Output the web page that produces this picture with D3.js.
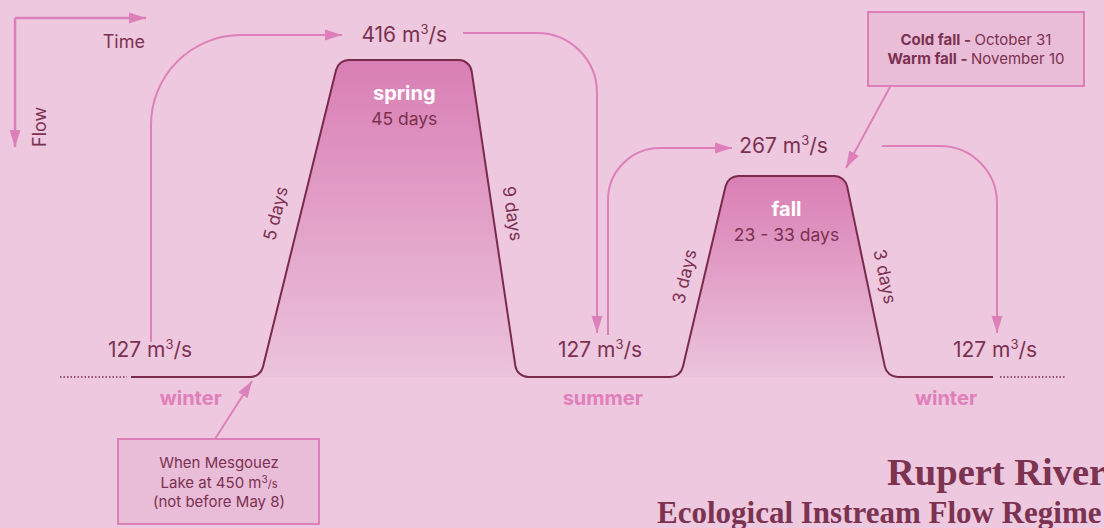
<!DOCTYPE html>
<html>
<head>
<meta charset="utf-8">
<script src="https://cdn.jsdelivr.net/npm/d3@7"></script>
<style>
  body { margin: 0; background: #edc8df; }
  svg { display: block; font-family: Inter, "Noto Sans", sans-serif; }
</style>
</head>
<body>
<svg id="regime" width="1104" height="528"></svg>
<script>
// flow regime, schematic (not to scale)

var seasons = ["winter", "summer", "winter"];
var peaks = ["spring", "fall"];
var peakDays = ["45 days", "23 - 33 days"];
var rampDays = ["5 days", "9 days", "3 days", "3 days"];
// hydrograph breakpoints : step index -> flow (m3/s)
var steps = [0, 1, 2, 3, 4, 5, 6, 7, 8, 9];
var flows = [127, 127, 416, 416, 127, 127, 267, 267, 127, 127];
var flowLevels = [127, 267, 416];
var lakeFlow = 450;

var maroon = "#7b3150",
    pink = "#dd80b9",
    lineCol = "#7a2b4b";

var svg = d3.select("#regime");

var x = d3.scaleLinear()
    .domain(steps)
    .range([131, 260.5, 338.5, 470, 517, 680.5, 728, 845, 887, 993]);

var y = d3.scaleLinear()
    .domain(flowLevels)
    .range([377, 176, 60]);

var defs = svg.append("defs");

var grad = defs.append("linearGradient")
    .attr("id", "peakFill")
    .attr("x1", 0).attr("y1", 0).attr("x2", 0).attr("y2", 1);
grad.append("stop").attr("offset", "0%").attr("stop-color", "#d97fb4");
grad.append("stop").attr("offset", "100%").attr("stop-color", "#ebc3dc");

defs.append("marker")
    .attr("id", "head")
    .attr("markerUnits", "userSpaceOnUse")
    .attr("markerWidth", 18).attr("markerHeight", 12)
    .attr("refX", 17).attr("refY", 6)
    .attr("orient", "auto")
    .append("path")
    .attr("d", "M0,0.5L17,6L0,11.5Z")
    .attr("fill", pink);

var pts = steps.map(function(d, i) { return [x(d), y(flows[i])]; });
var r = 13;

function rounded(points, close) {
    var p = d3.path();
    p.moveTo(points[0][0], points[0][1]);
    for (var i = 1; i < points.length - 1; i++) {
        p.arcTo(points[i][0], points[i][1], points[i + 1][0], points[i + 1][1], r);
    }
    p.lineTo(points[points.length - 1][0], points[points.length - 1][1]);
    if (close) p.closePath();
    return p.toString();
}

// shaded peaks
[[1, 4], [5, 8]].forEach(function(s) {
    var base = y(127);
    var poly = [[x(s[0]) - r, base]].concat(pts.slice(s[0], s[1] + 1), [[x(s[1]) + r, base]]);
    svg.append("path")
        .attr("d", rounded(poly, true))
        .attr("fill", "url(#peakFill)");
});

// hydrograph line
svg.append("path")
    .attr("d", rounded(pts, false))
    .attr("fill", "none")
    .attr("stroke", lineCol)
    .attr("stroke-width", 2);

// dotted lead in / lead out
[[60, 127], [1000, 1065]].forEach(function(d) {
    svg.append("line")
        .attr("x1", d[0]).attr("x2", d[1])
        .attr("y1", y(127)).attr("y2", y(127))
        .attr("stroke", lineCol)
        .attr("stroke-width", 1.5)
        .attr("stroke-dasharray", "1.5,2");
});

// axes legend
svg.append("path").attr("d", "M15,18H146").attr("stroke", pink).attr("stroke-width", 2.5)
    .attr("fill", "none").attr("marker-end", "url(#head)");
svg.append("path").attr("d", "M15,18V147").attr("stroke", pink).attr("stroke-width", 2.5)
    .attr("fill", "none").attr("marker-end", "url(#head)");
svg.append("text").attr("x", 145).attr("y", 48).attr("text-anchor", "end")
    .attr("fill", maroon).style("font-size", "18px").text("Time");
svg.append("text").attr("transform", "translate(46,147) rotate(-90)")
    .attr("fill", maroon).style("font-size", "18px").text("Flow");

// connecting arrows between flow levels
var arrows = [
    "M151,342V125A90,90 0 0 1 241,35H342",
    "M463,33H537A60,60 0 0 1 597,93V333",
    "M608,335V200A52,52 0 0 1 660,148H732",
    "M882,146H940A57,57 0 0 1 997,203V333"
];
svg.selectAll(".conn")
    .data(arrows)
    .enter().append("path")
    .attr("class", "conn")
    .attr("d", function(d) { return d; })
    .attr("fill", "none")
    .attr("stroke", pink)
    .attr("stroke-width", 2)
    .attr("marker-end", "url(#head)");

function flowLabel(g, v, cx, by) {
    var t = g.append("text")
        .attr("x", cx).attr("y", by)
        .attr("text-anchor", "middle")
        .attr("fill", maroon)
        .style("font-size", "21px");
    t.append("tspan").text(v + " m");
    t.append("tspan").attr("dy", -8).style("font-size", "13px").text("3");
    t.append("tspan").attr("dy", 8).text("/s");
}

flowLabel(svg, flows[2], (x(2) + x(3)) / 2, y(416) - 18);
flowLabel(svg, flows[6], (x(6) + x(7)) / 2 - 3, y(267) - 23);
[150, 600, 995].forEach(function(cx, i) {
    flowLabel(svg, [flows[0], flows[4], flows[9]][i], cx, y(127) - 20);
});

// season names under the baseline
var seasonX = [(x(0) + x(1)) / 2 - 5, (x(4) + x(5)) / 2 + 4, (x(8) + x(9)) / 2 + 6];
svg.selectAll(".season")
    .data(seasons)
    .enter().append("text")
    .attr("class", "season")
    .attr("x", function(d, i) { return seasonX[i]; })
    .attr("y", y(127) + 28)
    .attr("text-anchor", "middle")
    .attr("fill", "#e07fba")
    .style("font-size", "20px")
    .style("font-weight", "bold")
    .text(function(d) { return d; });

// peak names
var peakStart = [2, 6];
peaks.forEach(function(p, i) {
    var cx = (x(peakStart[i]) + x(peakStart[i] + 1)) / 2;
    var top = y(flows[peakStart[i]]);
    svg.append("text").attr("x", cx).attr("y", top + 40)
        .attr("text-anchor", "middle").attr("fill", "#fff")
        .style("font-size", "20px").style("font-weight", "bold").text(p);
    svg.append("text").attr("x", cx).attr("y", top + 65)
        .attr("text-anchor", "middle").attr("fill", maroon)
        .style("font-size", "17.5px").text(peakDays[i]);
});

// ramp durations along the slopes
var rampSeg = [[1, 2, -1], [3, 4, 1], [5, 6, -1], [7, 8, 1]];
rampSeg.forEach(function(s, i) {
    var x0 = x(s[0]), y0 = y(flows[s[0]]), x1 = x(s[1]), y1 = y(flows[s[1]]);
    var ang = Math.atan2(y1 - y0, x1 - x0) * 180 / Math.PI;
    if (ang < -90 || ang > 90) ang += 180;
    var mx = (x0 + x1) / 2, my = (y0 + y1) / 2;
    // offset away from the shape
    var off = [[-24, -5], [19, -5], [-20, 0], [19, 0]][i];
    svg.append("text")
        .attr("transform", "translate(" + (mx + off[0]) + "," + (my + off[1]) + ") rotate(" + ang + ")")
        .attr("text-anchor", "middle")
        .attr("dy", "0.35em")
        .attr("fill", maroon)
        .style("font-size", "17.5px")
        .text(rampDays[i]);
});

// callout: spring trigger
svg.append("rect").attr("x", 118).attr("y", 439).attr("width", 201).attr("height", 85)
    .attr("fill", "#e9bcd8").attr("stroke", pink).attr("stroke-width", 2);
svg.append("path").attr("d", "M215,439L252,381").attr("stroke", pink).attr("stroke-width", 2)
    .attr("marker-end", "url(#head)");
var c1 = svg.append("text").attr("text-anchor", "middle").attr("fill", maroon).style("font-size", "15px");
c1.append("tspan").attr("x", 219).attr("y", 468).text("When Mesgouez");
var l2 = c1.append("tspan").attr("x", 219).attr("y", 488);
l2.append("tspan").text("Lake at " + lakeFlow + " m");
l2.append("tspan").attr("dy", -5).style("font-size", "10px").text("3");
l2.append("tspan").attr("dy", 5).style("font-size", "11px").text("/s");
c1.append("tspan").attr("x", 219).attr("y", 507).text("(not before May 8)");

// callout: fall dates
svg.append("rect").attr("x", 868).attr("y", 12).attr("width", 216).attr("height", 74)
    .attr("fill", "#e9bcd8").attr("stroke", pink).attr("stroke-width", 2);
svg.append("path").attr("d", "M890,87L846,168").attr("stroke", pink).attr("stroke-width", 2)
    .attr("marker-end", "url(#head)");
var falls = [["Cold fall - ", "October 31"], ["Warm fall - ", "November 10"]];
falls.forEach(function(f, i) {
    var t = svg.append("text").attr("x", 976).attr("y", 45 + i * 19)
        .attr("text-anchor", "middle").attr("fill", maroon).style("font-size", "15px");
    t.append("tspan").style("font-weight", "bold").text(f[0]);
    t.append("tspan").text(f[1]);
});

// title
svg.append("text").attr("x", 887).attr("y", 485)
    .attr("fill", "#7b3350")
    .style("font-family", "'Liberation Serif', serif").style("font-weight", "bold")
    .style("font-size", "38.5px").text("Rupert River");
svg.append("text").attr("x", 657).attr("y", 523)
    .attr("fill", "#7b3350")
    .style("font-family", "'Liberation Serif', serif").style("font-weight", "bold")
    .style("font-size", "31px").text("Ecological Instream Flow Regime");
</script>
</body>
</html>
